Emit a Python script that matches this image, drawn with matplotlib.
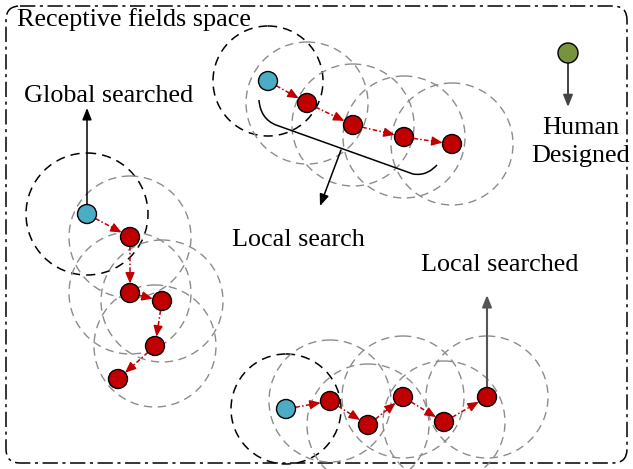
import numpy as np
import matplotlib.pyplot as plt
from matplotlib.patches import Circle, FancyBboxPatch
from matplotlib.path import Path
from matplotlib.patches import PathPatch

# node positions (pixel space of the diagram)
top_start = (268, 81)
top_path = [(307, 103), (353, 125), (404, 137), (452, 144)]

left_start = (87, 214)
left_path = [(130, 237), (130, 293), (162, 301), (155, 346), (118, 379)]

bottom_start = (286, 409)
bottom_path = [(330, 401), (368, 425), (403, 397), (444, 422), (487, 397)]

human_node = (568, 53)

labels = ["Receptive fields space", "Global searched", "Human\nDesigned",
          "Local search", "Local searched"]

plt.rcParams['font.family'] = ['Liberation Serif', 'DejaVu Serif']

fig = plt.figure(figsize=(6.33, 4.69), dpi=100)
ax = fig.add_axes([0, 0, 1, 1])
ax.set_xlim(0, 633)
ax.set_ylim(469, 0)
ax.set_aspect('equal')
ax.axis('off')

RED = '#C00000'
CYAN = '#4BACC6'
GREEN = '#77933C'
R_NODE = 9.5
R_FIELD = 61


def field(c, r, color, lw):
    ax.add_patch(Circle(c, r, fill=False, edgecolor=color, lw=lw,
                        linestyle=(0, (6, 4)), zorder=1))


def red_arrow(p0, p1):
    p0, p1 = np.array(p0, float), np.array(p1, float)
    u = (p1 - p0) / np.linalg.norm(p1 - p0)
    a = p0 + u * R_NODE
    b = p1 - u * R_NODE
    ax.plot([a[0], b[0] - u[0] * 6], [a[1], b[1] - u[1] * 6], color=RED,
            lw=1.1, linestyle=(0, (3, 1.5, 1, 1.5)), zorder=3)
    ax.annotate('', xy=b, xytext=b - u * 11,
                arrowprops=dict(arrowstyle='-|>,head_length=0.65,head_width=0.28',
                                color=RED, lw=1, shrinkA=0, shrinkB=0), zorder=3)


def chain(start, path, r_black, skip_last=False):
    field(start, r_black, 'black', 1.1)
    for p in (path[:-1] if skip_last else path):
        field(p, R_FIELD, '#8c8c8c', 1.0)
    pts = [start] + path
    for p0, p1 in zip(pts[:-1], pts[1:]):
        red_arrow(p0, p1)
    ax.add_patch(Circle(start, R_NODE, facecolor=CYAN, edgecolor='black', lw=1, zorder=4))
    for p in path:
        ax.add_patch(Circle(p, R_NODE, facecolor=RED, edgecolor='black', lw=1, zorder=4))


chain(top_start, top_path, 55)
chain(left_start, left_path, 61, skip_last=True)
chain(bottom_start, bottom_path, 55)

# frame
ax.add_patch(FancyBboxPatch((6, 6), 621, 457, boxstyle='round,pad=0,rounding_size=14',
                            fill=False, edgecolor='black', lw=1.1,
                            linestyle=(0, (10, 3, 2, 3)), zorder=0))

# human designed node
ax.add_patch(Circle(human_node, R_NODE + 0.5, facecolor=GREEN, edgecolor='black', lw=1, zorder=4))
ax.annotate('', xy=(human_node[0], 107), xytext=(human_node[0], human_node[1] + R_NODE),
            arrowprops=dict(arrowstyle='-|>,head_length=0.7,head_width=0.28',
                            color='#444444', lw=1.4, shrinkA=0, shrinkB=0))

# solid black arrows
arrow = dict(arrowstyle='-|>,head_length=0.7,head_width=0.28', color='black', lw=1.1,
             shrinkA=0, shrinkB=0)
ax.annotate('', xy=(87, 108), xytext=(87, left_start[1] - R_NODE), arrowprops=arrow, zorder=2)
ax.annotate('', xy=(487, 295), xytext=(487, 397 - R_NODE),
            arrowprops=dict(arrow, color='#555555', lw=1.5), zorder=2)
ax.annotate('', xy=(320, 206), xytext=(341, 150), arrowprops=arrow, zorder=2)

# brace
verts = [(259, 100), (260, 113), (266, 121), (276, 125),
         (413, 174), (425, 176), (432, 170), (437, 165)]
codes = [Path.MOVETO, Path.CURVE4, Path.CURVE4, Path.CURVE4,
         Path.LINETO, Path.CURVE4, Path.CURVE4, Path.CURVE4]
ax.add_patch(PathPatch(Path(verts, codes), fill=False, edgecolor='black', lw=1.1, zorder=2))

fs = 18.8
ax.text(17, 20, labels[0], fontsize=fs, ha='left', va='center')
ax.text(109, 96, labels[1], fontsize=fs, ha='center', va='center')
ax.text(581, 142, labels[2], fontsize=fs, ha='center', va='center', linespacing=1.4)
ax.text(298, 240, labels[3], fontsize=fs, ha='center', va='center')
ax.text(500, 265, labels[4], fontsize=fs, ha='center', va='center')

fig.savefig('out.png', dpi=100)
